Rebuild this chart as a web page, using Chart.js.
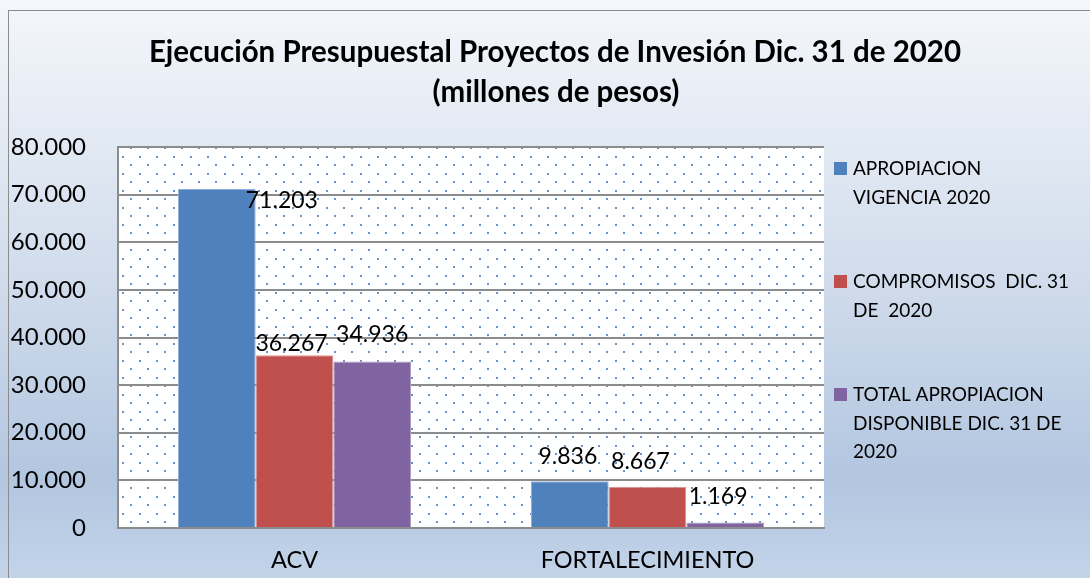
<!DOCTYPE html>
<html><head><meta charset="utf-8">
<script src="https://cdn.jsdelivr.net/npm/chart.js@4.4.0/dist/chart.umd.min.js"></script>
<style>html,body{margin:0;padding:0;background:#fff}#wrap{width:1090px;height:578px;position:relative}</style>
</head><body><div id="wrap"><canvas id="c" width="1090" height="578"></canvas></div>
<script>
// ---- data ----
const categories = ['ACV', 'FORTALECIMIENTO'];
const seriesNames = [
  ['APROPIACION', 'VIGENCIA 2020'],
  ['COMPROMISOS  DIC. 31', 'DE  2020'],
  ['TOTAL APROPIACION', 'DISPONIBLE DIC. 31 DE', '2020']
];
const apropiacion = [71203, 9836];
const compromisos = [36267, 8667];
const disponible = [34936, 1169];
const yTicks = [0, 10000, 20000, 30000, 40000, 50000, 60000, 70000, 80000];
const titleLines = ['Ejecución Presupuestal Proyectos de Invesión Dic. 31 de 2020', '(millones de pesos)'];

// ---- styles ----
const colors = ['#4f81bd', '#c0504d', '#8064a2'];
const edgeColors = ['#8eaedb', '#d99795', '#b09dc8'];
// label offsets relative to the bar top centre [dataset][index] = [dx, dy]
const labelOffsets = [[[65, 12], [-2, -25]], [[-3, -12], [-7, -25]], [[0, -27], [-7, -26]]];
const FONT = 'Lato, "Open Sans", sans-serif';

function fmt(v) { return String(v).replace(/\B(?=(\d{3})+(?!\d))/g, '.'); }

function makePattern() {
  const p = document.createElement('canvas');
  p.width = 17; p.height = 17;
  const g = p.getContext('2d');
  g.fillStyle = '#ffffff'; g.fillRect(0, 0, 17, 17);
  g.fillStyle = 'rgba(79,129,189,0.85)';
  g.fillRect(3, 3, 2, 2);
  g.fillRect(11, 11, 2, 2);
  return p;
}

const bgPlugin = {
  id: 'bg',
  beforeDraw(chart) {
    const ctx = chart.ctx, W = chart.width, H = chart.height;
    ctx.save();
    const gr = ctx.createLinearGradient(0, 0, 0, H);
    gr.addColorStop(0, '#f4f7fb');
    gr.addColorStop(0.5, '#cfdbeb');
    gr.addColorStop(0.83, '#b2c6e0');
    gr.addColorStop(1, '#c3d4e9');
    ctx.fillStyle = gr;
    ctx.fillRect(0, 0, W, H);
    ctx.strokeStyle = '#8c8c8c'; ctx.lineWidth = 1;
    ctx.strokeRect(8.5, 10.5, W + 10, H + 10);
    const a = chart.chartArea;
    ctx.fillStyle = ctx.createPattern(makePattern(), 'repeat');
    ctx.fillRect(a.left, a.top, a.right - a.left, a.bottom - a.top);
    ctx.restore();
  },
  afterDraw(chart) {
    const ctx = chart.ctx;
    ctx.save();
    // title
    ctx.fillStyle = '#000';
    ctx.textAlign = 'center'; ctx.textBaseline = 'middle';
    ctx.font = 'bold 29.5px ' + FONT;
    ctx.fillText(titleLines[0], 555, 52);
    ctx.fillText(titleLines[1], 556, 92);
    // legend
    ctx.textAlign = 'left'; ctx.textBaseline = 'middle';
    ctx.font = '19px ' + FONT;
    const tops = [169, 282, 395];
    chart.data.datasets.forEach((ds, i) => {
      ctx.fillStyle = colors[i];
      ctx.fillRect(834, tops[i] - 7, 13, 13);
      ctx.fillStyle = '#000';
      ds.legendLines.forEach((t, j) => ctx.fillText(t, 853, tops[i] + j * 28.5));
    });
    ctx.restore();
  },
  afterDatasetsDraw(chart) {
    const ctx = chart.ctx;
    ctx.save();
    ctx.fillStyle = '#000';
    ctx.font = '23px ' + FONT;
    ctx.textAlign = 'center'; ctx.textBaseline = 'middle';
    chart.data.datasets.forEach((ds, i) => {
      const meta = chart.getDatasetMeta(i);
      meta.data.forEach((el, j) => {
        const o = labelOffsets[i][j];
        ctx.fillText(fmt(ds.data[j]), el.x + o[0], el.y + o[1]);
      });
    });
    ctx.restore();
  }
};

const seriesData = [apropiacion, compromisos, disponible];
new Chart(document.getElementById('c'), {
  type: 'bar',
  data: {
    labels: categories,
    datasets: seriesData.map((d, i) => ({
      label: seriesNames[i].join(' '),
      legendLines: seriesNames[i],
      data: d,
      backgroundColor: colors[i],
      borderColor: edgeColors[i],
      borderWidth: 1,
      categoryPercentage: 0.66,
      barPercentage: 1.0
    }))
  },
  options: {
    responsive: false,
    animation: false,
    devicePixelRatio: 1,
    layout: { padding: { top: 147, right: 266, left: 0, bottom: 0 } },
    plugins: { legend: { display: false }, title: { display: false }, tooltip: { enabled: false } },
    scales: {
      x: {
        grid: { display: false, drawTicks: false },
        border: { display: true, color: '#8c8c8c', width: 2 },
        ticks: { color: '#000', font: { family: FONT, size: 23.5 }, padding: 18, maxRotation: 0 },
        afterFit(s) { s.height = 50; }
      },
      y: {
        min: 0, max: 80000,
        afterBuildTicks(s) { s.ticks = yTicks.map(v => ({ value: v })); },
        grid: { color: '#8c8c8c', lineWidth: 2, drawTicks: false },
        border: { display: true, color: '#8c8c8c', width: 2 },
        ticks: { color: '#000', font: { family: FONT, size: 24 }, padding: 32, callback: v => fmt(v) },
        afterFit(s) { s.width = 118; }
      }
    }
  },
  plugins: [bgPlugin]
});
</script>
</body></html>
